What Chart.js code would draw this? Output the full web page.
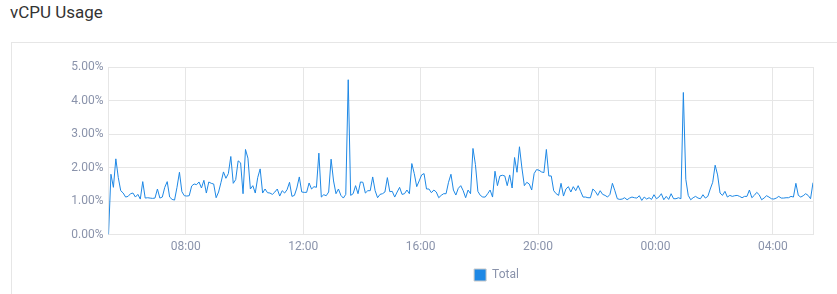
<!DOCTYPE html>
<html>
<head>
<meta charset="utf-8">
<script src="https://cdn.jsdelivr.net/npm/chart.js@4"></script>
<style>
  html, body { margin: 0; padding: 0; background: #fff; width: 837px; height: 294px; overflow: hidden; }
  #title { position: absolute; left: 10px; top: 1px; font-family: Roboto, sans-serif; font-size: 17px; color: #333; line-height: 22px; }
  #card { position: absolute; left: 11px; top: 42px; width: 840px; height: 270px; border: 1px solid #e6e6e6; box-sizing: border-box; }
  #wrap { position: absolute; left: 0; top: 0; width: 837px; height: 294px; }
</style>
</head>
<body>
<div id="title">vCPU Usage</div>
<div id="card"></div>
<div id="wrap"><canvas id="c"></canvas></div>
<script>
// Time axis: minutes since midnight of first day, 5-minute samples starting 05:22
const startMinute = 322;
const stepMinutes = 5;
const xTickMinutes = [480, 720, 960, 1200, 1440, 1680];
const yTickValues = [0, 1, 2, 3, 4, 5];
const seriesName = "Total";

const totalUsage = [
  // 05:22 - ~10:12
  0.00, 1.80, 1.41, 2.26, 1.70, 1.31, 1.24, 1.12, 1.14, 1.22, 1.24, 1.12, 1.20, 1.06, 1.58, 1.09, 1.10, 1.09, 1.08, 1.09,
  1.36, 1.09, 1.12, 1.41, 1.58, 1.12, 1.05, 1.03, 1.41, 1.86, 1.28, 1.16, 1.15, 1.16, 1.45, 1.51, 1.49, 1.57, 1.39, 1.62,
  1.24, 1.57, 1.53, 1.51, 1.10, 1.27, 1.56, 1.87, 1.68, 1.82, 2.33, 1.53, 1.64, 2.20, 2.14, 1.22, 2.54, 2.28, 1.36,
  // ~10:17 - ~15:02
  1.46, 1.24, 1.70, 1.96, 1.24, 1.36, 1.25, 1.24, 1.20, 1.27, 1.36, 1.15, 1.31, 1.24, 1.34, 1.56, 1.14, 1.17, 1.39, 1.72,
  1.27, 1.26, 1.26, 1.54, 1.36, 1.43, 1.41, 2.43, 1.12, 1.19, 1.16, 1.27, 2.25, 1.60, 1.22, 1.36, 1.17, 1.09, 1.20, 4.62,
  1.17, 1.22, 1.46, 1.22, 1.57, 1.56, 1.24, 1.31, 1.31, 1.72, 1.31, 1.10, 1.20, 1.22, 1.27, 1.70, 1.28, 1.29,
  // ~15:07 - ~19:52
  1.12, 1.27, 1.41, 1.20, 1.22, 1.33, 1.22, 2.12, 1.82, 1.43, 1.60, 1.78, 1.82, 1.36, 1.36, 1.25, 1.33, 1.27, 1.10, 1.17,
  1.22, 1.22, 1.56, 1.80, 1.33, 1.18, 1.38, 1.46, 1.31, 1.10, 1.33, 1.22, 2.57, 2.09, 1.29, 1.17, 1.12, 1.12, 1.22, 1.33,
  1.12, 1.89, 1.46, 1.75, 1.77, 1.75, 1.46, 1.78, 1.39, 2.30, 1.86, 2.62, 1.99, 1.46, 1.56, 1.51, 1.33, 1.82,
  // ~19:57 - ~00:42
  1.94, 1.92, 1.87, 1.85, 2.54, 1.75, 1.75, 1.31, 1.22, 1.17, 1.53, 1.15, 1.36, 1.43, 1.27, 1.43, 1.31, 1.46, 1.29, 1.12,
  1.12, 1.10, 1.10, 1.36, 1.29, 1.17, 1.31, 1.20, 1.17, 1.12, 1.20, 1.53, 1.31, 1.07, 1.05, 1.06, 1.10, 1.04, 1.09, 1.12,
  1.10, 1.09, 1.16, 1.02, 1.12, 1.06, 1.10, 1.05, 1.19, 1.07, 1.12, 1.22, 1.04, 1.14, 1.05, 1.22, 1.07, 1.07,
  // ~00:47 - 05:22
  1.10, 1.07, 4.24, 1.65, 1.17, 1.04, 1.10, 1.14, 1.09, 1.07, 1.19, 1.09, 1.14, 1.36, 1.56, 2.07, 1.78, 1.24, 1.17, 1.29,
  1.12, 1.17, 1.14, 1.16, 1.17, 1.14, 1.10, 1.14, 1.14, 1.33, 1.10, 1.17, 1.26, 1.19, 1.04, 1.09, 1.16, 1.12, 1.07, 1.06,
  1.09, 1.14, 1.09, 1.09, 1.10, 1.10, 1.14, 1.12, 1.53, 1.17, 1.12, 1.16, 1.22, 1.17, 1.07, 1.55
];

const points = totalUsage.map((v, i) => ({ x: startMinute + i * stepMinutes, y: v }));
const xMin = startMinute;
const xMax = startMinute + (totalUsage.length - 1) * stepMinutes;

const lineColor = '#1e88e5';
const gridColor = '#e6e6e6';
const tickColor = '#8a93ab';
const fontFamily = 'Roboto, sans-serif';

const legendShift = {
  id: 'legendShift',
  afterLayout(chart) {
    if (chart.legend) {
      chart.legend.left = 90;
      chart.legend.right = 813 + 90;
    }
  }
};

new Chart(document.getElementById('c'), {
  type: 'line',
  data: {
    datasets: [{
      label: seriesName,
      data: points,
      borderColor: lineColor,
      backgroundColor: lineColor,
      borderWidth: 1,
      pointRadius: 0,
      tension: 0,
      fill: false
    }]
  },
  plugins: [legendShift],
  options: {
    responsive: true,
    maintainAspectRatio: false,
    animation: false,
    events: [],
    layout: { padding: { left: 0, right: 24, top: 67, bottom: 3 } },
    plugins: {
      title: { display: false },
      tooltip: { enabled: false },
      legend: {
        display: true,
        position: 'bottom',
        labels: {
          boxWidth: 12,
          boxHeight: 12,
          padding: 10,
          color: tickColor,
          font: { family: fontFamily, size: 12 },
          generateLabels: (chart) => chart.data.datasets.map((ds, i) => ({
            text: ds.label,
            fillStyle: lineColor,
            strokeStyle: '#c8c8c8',
            lineWidth: 1,
            hidden: false,
            datasetIndex: i,
            fontColor: tickColor
          }))
        }
      }
    },
    scales: {
      x: {
        type: 'linear',
        min: xMin,
        max: xMax,
        afterBuildTicks: (scale) => {
          scale.ticks = [xMin, ...xTickMinutes, xMax].map(v => ({ value: v }));
        },
        grid: { color: gridColor, drawTicks: false },
        border: { color: gridColor },
        ticks: {
          padding: 5,
          color: tickColor,
          font: { family: fontFamily, size: 12 },
          maxRotation: 0,
          autoSkip: false,
          callback: (v) => {
            if (v === xMin || v === xMax) return '';
            const h = Math.floor(v / 60) % 24;
            return String(h).padStart(2, '0') + ':00';
          }
        }
      },
      y: {
        min: 0,
        max: 5,
        afterBuildTicks: (scale) => {
          scale.ticks = yTickValues.map(v => ({ value: v }));
        },
        afterFit: (scale) => { scale.width = 108.5; },
        grid: { color: gridColor, drawTicks: false },
        border: { color: gridColor },
        ticks: {
          padding: 5,
          color: tickColor,
          font: { family: fontFamily, size: 12 },
          callback: (v) => v.toFixed(2) + '%'
        }
      }
    }
  }
});
</script>
</body>
</html>
